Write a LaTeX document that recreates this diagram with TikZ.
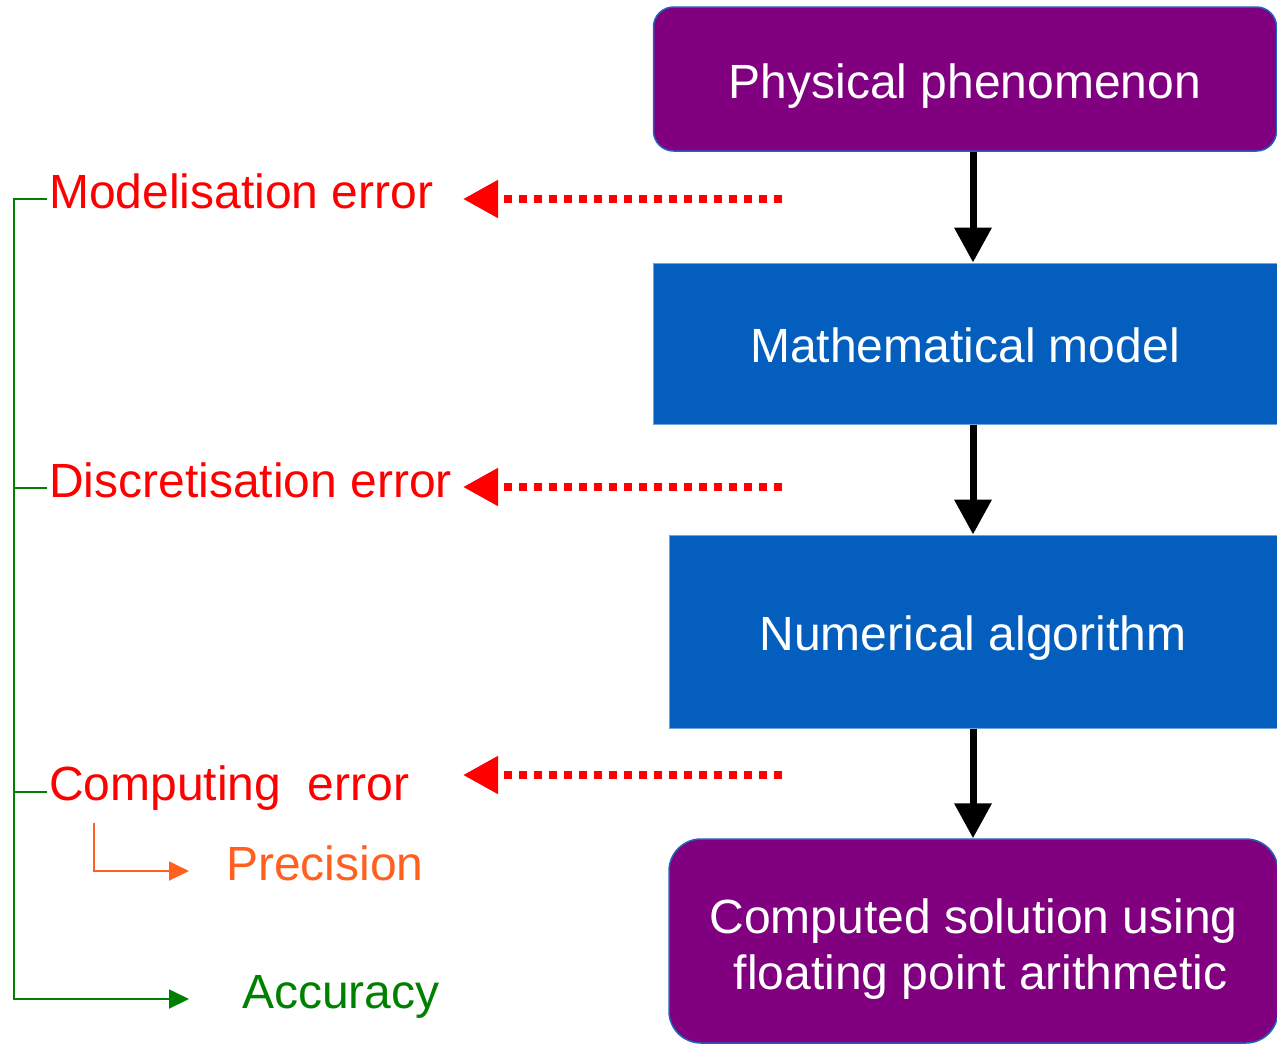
\documentclass[tikz,border=0pt]{standalone}
\usepackage{fontspec}
\setmainfont{Liberation Sans}
\usetikzlibrary{arrows.meta}
\definecolor{purp}{RGB}{128,0,128}
\definecolor{boxblue}{RGB}{3,94,189}
\definecolor{edgeblue}{RGB}{30,100,190}
\definecolor{lightedge}{RGB}{110,165,220}
\definecolor{errred}{RGB}{255,0,0}
\definecolor{precorange}{RGB}{255,96,32}
\definecolor{accgreen}{RGB}{0,128,0}
\begin{document}
\begin{tikzpicture}[x=1pt,y=-1pt,
  every node/.style={inner sep=0pt, font=\fontsize{48}{56}\selectfont},
  roundbox/.style={rectangle, rounded corners=#1, fill=purp, draw=edgeblue, line width=1.5pt, text=white, align=center, text height=48pt, text depth=10pt},
  bluebox/.style={rectangle, fill=boxblue, draw=lightedge, line width=1pt, text=white, align=center, text height=48pt, text depth=10pt},
  errlabel/.style={anchor=base west, text=errred},
  flowarrow/.style={line width=7pt, -{Triangle[width=36pt,length=35pt]}},
  errarrow/.style={errred, line width=8pt, dash pattern=on 8pt off 7pt, -{Triangle[width=36pt,length=35pt]}},
  gline/.style={accgreen, line width=1.8pt},
  oline/.style={precorange, line width=1.8pt},
  smalltip/.style={-{Triangle[width=19pt,length=20pt]}}
]
\useasboundingbox (0,0) rectangle (1277,1045);

% boxes
\node[roundbox=20pt, minimum width=623pt, minimum height=144pt] (phys) at (965,79) {Physical phenomenon};
\node[bluebox, minimum width=624pt, minimum height=161pt] (math) at (965,343.5) {Mathematical model};
\node[bluebox, minimum width=608pt, minimum height=193pt] (num) at (973,631.5) {Numerical algorithm};
\node[roundbox=32pt, text height=107pt, text depth=10pt, minimum width=609pt, minimum height=204pt] (comp) at (973.5,941) {Computed solution using\\ \hspace*{14pt}floating point arithmetic};

% flow arrows
\draw[flowarrow] (phys.south -| num.north) -- (math.north -| num.north);
\draw[flowarrow] (math.south -| num.north) -- (num.north);
\draw[flowarrow] (num.south) -- (comp.north -| num.north);

% error labels
\node[errlabel] (mod) at (49,208) {Modelisation error};
\node[errlabel] (dis) at (49,497) {Discretisation error};
\node[errlabel] (cerr) at (49,800) {Computing\ \ error};
\node[anchor=base west, text=precorange] (prec) at (226,880) {Precision};
\node[anchor=base west, text=accgreen] (acc) at (242,1008) {Accuracy};

% dotted error arrows
\coordinate (e1s) at (782,199); \coordinate (e1t) at (463,199);
\coordinate (e2s) at (782,487); \coordinate (e2t) at (463,487);
\coordinate (e3s) at (782,775); \coordinate (e3t) at (463,775);
\draw[errarrow] (e1s) -- (e1t);
\draw[errarrow] (e2s) -- (e2t);
\draw[errarrow] (e3s) -- (e3t);

% green bracket
\coordinate (gb) at (14,999);
\draw[gline, smalltip] ([xshift=-2pt,yshift=9pt]mod.base west) -| (gb) -- ([xshift=-53pt,yshift=9pt]acc.base west);
\draw[gline] ([xshift=-2pt,yshift=9pt]dis.base west) -- (14,488);
\draw[gline] ([xshift=-2pt,yshift=8pt]cerr.base west) -- (14,792);

% orange precision arrow
\draw[oline, smalltip] ([xshift=45pt,yshift=-23pt]cerr.base west) |- ([xshift=-37pt,yshift=9pt]prec.base west);
\end{tikzpicture}
\end{document}
